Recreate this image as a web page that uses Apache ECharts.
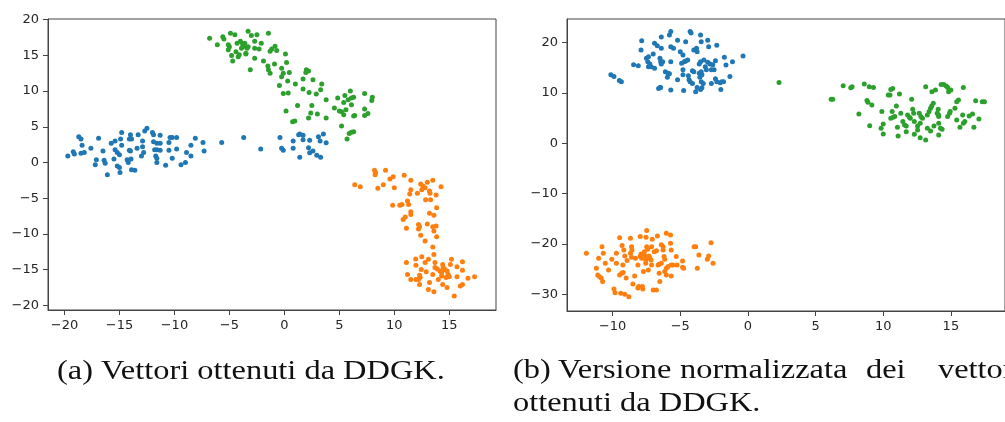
<!DOCTYPE html>
<html>
<head>
<meta charset="utf-8">
<script src="https://cdn.jsdelivr.net/npm/echarts@6/dist/echarts.min.js"></script>
<style>
html,body{margin:0;padding:0;background:#fff;}
#chart{width:1005px;height:422px;}
</style>
</head>
<body>
<div id="chart"></div>
<script>
// ---- Panel (a): raw DDGK vectors ----
const leftBlue = [[-19.7,0.9],[-19.2,1.5],[-19.1,1.2],[-18.7,3.6],[-18.5,3.3],[-18.5,1.3],[-18.2,1.4],[-18.4,2.4],[-17.6,2.0],[-16.9,3.4],[-17.1,0.4],[-17.2,-0.3],[-16.5,1.6],[-16.4,0.3],[-16.3,-0.1],[-15.75,2.7],[-15.4,3.0],[-15.4,1.8],[-15.2,1.4],[-15.0,1.1],[-14.9,3.3],[-14.8,4.2],[-14.8,2.4],[-15.5,0.5],[-15.2,-0.5],[-14.3,0.4],[-14.2,0.0],[-14.1,3.3],[-14.0,3.9],[-13.9,3.3],[-14.1,1.7],[-14.0,1.6],[-13.95,0.5],[-13.4,2.0],[-13.3,3.9],[-13.0,0.9],[-12.9,2.2],[-12.9,3.0],[-12.8,1.4],[-12.7,4.4],[-12.5,4.8],[-12.0,4.2],[-11.9,3.9],[-11.9,2.9],[-11.6,2.7],[-11.8,1.8],[-11.6,1.8],[-11.7,0.9],[-11.6,0.6],[-11.6,0.0],[-11.3,3.8],[-11.3,2.7],[-11.3,1.7],[-10.8,-0.4],[-10.5,2.8],[-10.4,3.5],[-10.2,3.5],[-9.8,3.5],[-10.5,1.7],[-10.2,0.6],[-9.8,1.9],[-9.4,-0.3],[-9.0,0.0],[-8.9,1.4],[-8.5,0.9],[-8.5,2.4],[-8.1,3.4],[-7.4,2.8],[-7.3,1.6],[-5.7,2.8],[-3.7,3.5],[-16.1,-1.7],[-15.0,-0.7],[-14.95,-1.4],[-13.9,-1.0],[-13.6,-1.1],[-2.15,1.9],[-0.4,3.5],[-0.25,2.0],[-0.1,1.7],[0.8,3.0],[0.8,2.0],[1.3,3.9],[1.4,4.0],[1.7,3.8],[1.7,3.2],[2.3,3.1],[2.2,2.05],[2.3,1.35],[2.6,1.6],[2.95,1.0],[1.4,0.75],[3.1,3.6],[3.25,3.0],[3.55,4.0],[3.8,2.75],[3.3,0.75]];
const leftGreen = [[-6.8,17.4],[-6.1,16.5],[-5.6,17.6],[-5.5,17.3],[-4.9,18.1],[-4.5,17.9],[-5.1,16.5],[-5.0,16.2],[-5.1,15.8],[-4.8,15.0],[-4.7,14.2],[-4.4,15.5],[-4.1,15.1],[-4.2,14.8],[-4.3,16.7],[-4.0,17.0],[-3.8,16.6],[-3.7,16.3],[-3.6,16.7],[-3.9,16.0],[-3.5,15.3],[-3.3,18.4],[-3.1,13.0],[-3.0,17.8],[-2.5,17.9],[-1.45,18.1],[-2.7,17.0],[-2.1,16.7],[-3.4,16.0],[-3.3,16.2],[-2.7,16.0],[-2.3,15.9],[-3.5,15.2],[-2.7,14.6],[-1.9,14.2],[-1.3,15.6],[-1.15,15.9],[-0.85,16.3],[-0.7,15.7],[0.1,15.2],[0.2,14.0],[-0.9,13.8],[-1.5,13.5],[-1.45,13.0],[-1.3,12.5],[-0.25,13.2],[-0.1,12.5],[0.45,12.6],[-0.25,12.0],[-0.45,10.8],[0.3,11.4],[1.0,11.0],[-0.1,9.65],[0.35,9.75],[2.0,13.0],[2.2,12.8],[1.95,12.6],[1.7,11.7],[2.6,11.6],[1.7,10.3],[2.25,9.8],[2.9,9.6],[3.4,11.0],[3.3,10.2],[3.8,8.8],[1.2,8.0],[0.15,7.2],[2.5,8.0],[2.4,6.95],[3.0,6.8],[2.2,6.25],[0.75,5.7],[0.95,5.8],[3.8,6.25],[4.85,9.05],[5.5,9.4],[5.4,8.4],[6.0,10.0],[6.1,9.05],[6.3,9.15],[5.8,8.8],[6.1,8.1],[4.55,7.65],[5.0,7.2],[5.2,7.1],[5.6,7.4],[5.4,6.7],[6.3,6.5],[6.4,6.6],[7.3,9.65],[8.0,9.15],[7.95,8.7],[7.3,7.5],[7.6,6.85],[7.3,6.6],[5.2,5.1],[5.9,4.05],[6.1,4.25],[6.3,4.3],[5.7,3.3]];
const leftOrange = [[6.4,-3.1],[6.9,-3.4],[8.2,-1.1],[8.25,-1.7],[8.3,-1.45],[9.2,-1.1],[9.0,-3.1],[8.5,-3.6],[9.6,-2.3],[9.9,-2.0],[10.0,-3.55],[10.9,-1.8],[11.5,-2.5],[11.5,-3.8],[11.4,-4.4],[12.1,-4.3],[12.4,-3.0],[12.6,-3.3],[12.8,-3.55],[12.5,-3.8],[13.0,-2.75],[13.5,-2.5],[13.2,-4.0],[13.25,-4.3],[13.8,-4.55],[14.25,-3.4],[12.85,-5.2],[13.3,-5.2],[9.85,-6.0],[10.5,-6.0],[10.7,-5.9],[11.2,-5.4],[11.3,-5.9],[11.5,-6.9],[11.5,-7.3],[10.8,-8.0],[11.0,-7.65],[13.85,-6.35],[13.2,-7.1],[13.6,-7.4],[11.1,-9.2],[12.2,-8.7],[12.2,-9.3],[12.3,-9.0],[13.0,-8.6],[13.5,-9.0],[13.8,-8.9],[13.6,-9.6],[12.4,-10.2],[12.8,-11.0],[13.85,-10.4],[13.5,-11.85],[13.6,-12.9],[11.95,-13.5],[12.5,-13.2],[13.1,-13.55],[11.1,-14.0],[11.97,-14.4],[12.8,-14.0],[13.7,-14.0],[13.7,-14.7],[14.4,-14.3],[14.45,-14.7],[14.6,-15.0],[15.1,-14.3],[15.2,-13.55],[13.9,-14.9],[14.15,-15.2],[14.3,-15.4],[14.8,-15.2],[14.9,-15.7],[15.0,-16.0],[14.7,-16.1],[15.7,-14.6],[16.2,-13.9],[16.2,-15.1],[15.7,-16.0],[16.7,-16.2],[17.3,-16.0],[16.0,-17.3],[16.2,-17.1],[15.45,-18.7],[14.8,-17.5],[14.4,-17.1],[13.6,-18.1],[13.1,-17.8],[13.2,-16.8],[14.0,-16.4],[14.3,-15.9],[13.5,-15.7],[12.9,-15.3],[12.3,-15.8],[12.35,-16.1],[12.2,-16.4],[11.97,-16.4],[12.3,-17.1],[11.5,-16.4],[11.2,-15.7],[12.45,-15.0]];

// ---- Panel (b): normalized vectors ----
const rightBlue = [[-10.13,13.6],[-9.9,13.25],[-9.5,12.45],[-9.35,12.25],[-8.45,15.6],[-8.1,15.4],[-7.85,20.4],[-7.9,18.55],[-7.5,16.9],[-7.4,16.2],[-7.35,17.2],[-7.35,15.2],[-7.25,15.75],[-7.15,15.2],[-7.0,17.75],[-6.9,19.9],[-6.7,19.4],[-6.4,18.9],[-6.9,14.9],[-6.5,16.9],[-6.45,16.2],[-6.4,15.75],[-6.3,16.2],[-6.4,21.1],[-5.8,21.5],[-5.7,22.2],[-5.7,19.2],[-5.5,18.9],[-5.7,16.2],[-6.1,14.2],[-5.9,13.9],[-5.8,13.8],[-5.95,13.1],[-6.6,10.9],[-6.5,11.1],[-6.45,11.1],[-5.7,10.6],[-5.2,20.5],[-5.0,18.2],[-4.6,20.2],[-4.8,17.55],[-4.9,15.9],[-4.7,16.2],[-4.6,16.35],[-4.45,16.55],[-4.8,14.6],[-4.8,13.6],[-5.2,12.6],[-4.75,10.5],[-4.27,22.2],[-4.2,21.9],[-4.0,18.55],[-3.8,18.9],[-3.75,18.2],[-4.4,13.4],[-4.35,12.6],[-4.27,12.25],[-4.1,14.4],[-4.0,14.2],[-4.1,11.9],[-3.86,10.25],[-3.75,11.1],[-3.6,15.75],[-3.5,16.2],[-3.6,13.9],[-3.45,14.2],[-3.4,13.6],[-3.55,13.1],[-3.45,12.25],[-3.3,11.9],[-3.5,21.5],[-3.45,20.2],[-3.5,10.7],[-3.4,11.05],[-3.25,16.55],[-3.15,15.2],[-3.07,14.6],[-2.97,20.5],[-2.9,19.2],[-2.97,16.1],[-2.8,15.75],[-2.7,14.6],[-2.5,14.6],[-2.7,11.9],[-2.6,15.6],[-2.4,16.4],[-2.3,19.5],[-2.4,12.8],[-2.3,12.25],[-2.05,12.05],[-1.93,12.25],[-1.8,12.25],[-2.0,10.7],[-1.74,17.1],[-1.62,15.55],[-1.33,13.25],[-1.14,16.2],[-0.36,17.35]];
const rightGreen = [[2.3,12.1],[6.15,8.75],[6.27,8.75],[7.04,11.45],[7.6,11.05],[7.7,11.25],[8.6,11.8],[8.97,11.25],[9.28,11.1],[8.8,8.5],[8.87,8.15],[9.16,7.6],[8.2,5.8],[9.0,3.5],[9.9,6.3],[10.0,3.85],[9.84,3.0],[10.0,1.85],[10.37,9.6],[10.5,9.6],[10.56,10.7],[10.7,10.9],[10.97,7.4],[11.2,9.8],[10.56,4.97],[10.73,5.17],[10.85,5.3],[10.66,6.3],[11.3,5.96],[11.05,3.18],[11.1,1.45],[11.45,4.3],[11.58,3.64],[11.7,3.44],[11.7,2.3],[11.8,5.6],[11.94,5.17],[12.0,4.97],[12.1,8.75],[12.18,6.76],[12.25,5.96],[12.3,4.3],[12.3,1.8],[12.54,2.64],[12.54,3.44],[12.66,5.96],[12.78,5.3],[12.9,4.97],[12.73,1.1],[13.14,0.66],[12.73,3.97],[13.14,11.25],[13.26,5.6],[13.39,6.3],[13.5,6.96],[13.58,7.4],[13.26,3.0],[13.5,2.44],[13.7,7.95],[13.6,10.25],[13.86,10.6],[13.75,3.44],[13.99,5.96],[14.06,6.76],[14.1,5.3],[14.1,5.6],[14.1,3.97],[14.1,1.65],[14.23,3.0],[14.35,2.78],[14.28,11.7],[14.47,11.7],[14.66,11.4],[14.76,11.1],[14.83,10.25],[15.0,10.6],[14.76,5.3],[14.9,5.96],[14.95,6.3],[15.3,6.96],[15.43,8.27],[15.56,8.6],[15.43,4.63],[15.67,3.18],[15.87,5.63],[15.92,11.1],[15.92,3.97],[16.03,4.3],[16.35,5.43],[16.6,5.83],[16.7,3.18],[16.83,8.47],[17.07,4.83],[17.32,8.27],[17.48,8.27]];
const rightOrange = [[-11.94,-21.87],[-11.2,-24.85],[-11.03,-22.86],[-11.1,-26.2],[-10.98,-26.5],[-10.85,-26.8],[-10.74,-27.5],[-10.78,-20.56],[-10.69,-21.87],[-10.54,-23.86],[-10.3,-25.2],[-10.06,-23.06],[-9.9,-29.0],[-9.82,-29.7],[-9.72,-21.87],[-9.72,-23.86],[-9.48,-18.77],[-9.48,-26.2],[-9.33,-25.85],[-9.22,-25.7],[-9.4,-29.8],[-9.1,-30.0],[-8.8,-30.5],[-9.3,-20.35],[-9.17,-21.2],[-9.1,-22.4],[-9.24,-24.2],[-9.0,-26.8],[-8.93,-23.3],[-8.68,-18.9],[-8.6,-20.56],[-8.57,-21.2],[-8.6,-22.66],[-8.68,-21.87],[-8.5,-27.97],[-8.37,-26.4],[-8.32,-22.86],[-8.13,-24.2],[-8.13,-28.8],[-8.08,-28.5],[-7.96,-18.56],[-7.96,-22.5],[-7.9,-22.0],[-7.85,-22.86],[-7.77,-29.0],[-7.8,-28.5],[-7.72,-25.5],[-7.65,-21.55],[-7.6,-22.4],[-7.55,-23.2],[-7.55,-23.86],[-7.48,-17.37],[-7.53,-18.7],[-7.48,-20.56],[-7.4,-21.07],[-7.36,-25.2],[-7.31,-22.4],[-7.24,-22.86],[-7.16,-23.2],[-7.12,-20.56],[-7.12,-24.2],[-7.07,-19.1],[-7.0,-29.2],[-6.76,-29.2],[-6.92,-21.55],[-6.76,-21.35],[-6.69,-18.43],[-6.64,-24.2],[-6.56,-24.06],[-6.56,-25.85],[-6.51,-27.5],[-6.4,-20.2],[-6.27,-20.56],[-6.27,-21.2],[-6.4,-23.86],[-6.2,-22.5],[-6.15,-23.06],[-6.15,-25.5],[-6.03,-24.85],[-6.03,-17.9],[-5.72,-18.23],[-6.03,-26.2],[-5.9,-24.5],[-5.72,-19.9],[-5.67,-21.2],[-5.67,-24.2],[-5.55,-24.2],[-5.67,-26.4],[-5.3,-22.5],[-5.24,-24.2],[-4.83,-23.4],[-4.83,-24.65],[-4.75,-24.85],[-3.98,-20.56],[-3.86,-20.56],[-3.74,-24.85],[-3.62,-22.2],[-3.0,-23.06],[-2.9,-22.4],[-2.73,-19.76],[-2.58,-23.86]];

// ---- tick labels ----
const leftXTicks = [-20,-15,-10,-5,0,5,10,15];
const leftYTicks = [-20,-15,-10,-5,0,5,10,15,20];
const rightXTicks = [-10,-5,0,5,10,15];
const rightYTicks = [-30,-20,-10,0,10,20];

// ---- captions ----
const captionA = '(a) Vettori ottenuti da DDGK.';
const captionBLine1 = ['(b)','Versione','normalizzata','dei','vettori'];
const captionBLine2 = 'ottenuti da DDGK.';

const BLUE = '#1f77b4', ORANGE = '#ff7f0e', GREEN = '#2ca02c';
const AXC = '#444';

function makeAxis(gridIndex, min, max, ticks) {
  return {
    type: 'value', gridIndex: gridIndex, min: min, max: max,
    splitLine: {show: false},
    axisLine: {show: true, onZero: false, lineStyle: {color: AXC, width: 1}},
    axisTick: {show: true, length: 5, customValues: ticks, lineStyle: {color: AXC, width: 1}},
    axisLabel: {customValues: ticks, fontFamily: 'DejaVu Sans', fontSize: 13, color: '#262626', margin: 9,
      formatter: function (v) { return String(v).replace('-', '\u2212'); }}
  };
}

function scatter(data, color, xi) {
  return {type: 'scatter', xAxisIndex: xi, yAxisIndex: xi, data: data, symbolSize: 5,
    itemStyle: {color: color, opacity: 1}, silent: true, animation: false};
}

const serif = '27px "Liberation Serif", "Times New Roman", serif';
function capText(text, x, y) {
  return {type: 'text', x: x, y: y, scaleX: 1.2, scaleY: 1, silent: true,
    style: {text: text, x: 0, y: 0, font: serif, fill: '#111', align: 'left', verticalAlign: 'middle'}};
}
const capBX = [513, 558, 680, 866, 938];
const graphics = [capText(captionA, 57, 372)];
captionBLine1.forEach(function (w, i) { graphics.push(capText(w, capBX[i], 371)); });
graphics.push(capText(captionBLine2, 513, 404));

const chart = echarts.init(document.getElementById('chart'), null, {renderer: 'canvas'});
chart.setOption({
  animation: false,
  backgroundColor: '#fff',
  grid: [
    {left: 48, top: 19, width: 448, height: 291, show: true, borderColor: AXC, borderWidth: 1, backgroundColor: 'transparent'},
    {left: 567, top: 19, width: 447, height: 292, show: true, borderColor: AXC, borderWidth: 1, backgroundColor: 'transparent'}
  ],
  xAxis: [makeAxis(0, -21.5, 19.25, leftXTicks), makeAxis(1, -13.37, 19.0, rightXTicks)],
  yAxis: [makeAxis(0, -20.66, 20.1, leftYTicks), makeAxis(1, -33.35, 24.7, rightYTicks)],
  series: [
    scatter(leftBlue, BLUE, 0), scatter(leftOrange, ORANGE, 0), scatter(leftGreen, GREEN, 0),
    scatter(rightBlue, BLUE, 1), scatter(rightOrange, ORANGE, 1), scatter(rightGreen, GREEN, 1)
  ],
  graphic: graphics
});
</script>
</body>
</html>
